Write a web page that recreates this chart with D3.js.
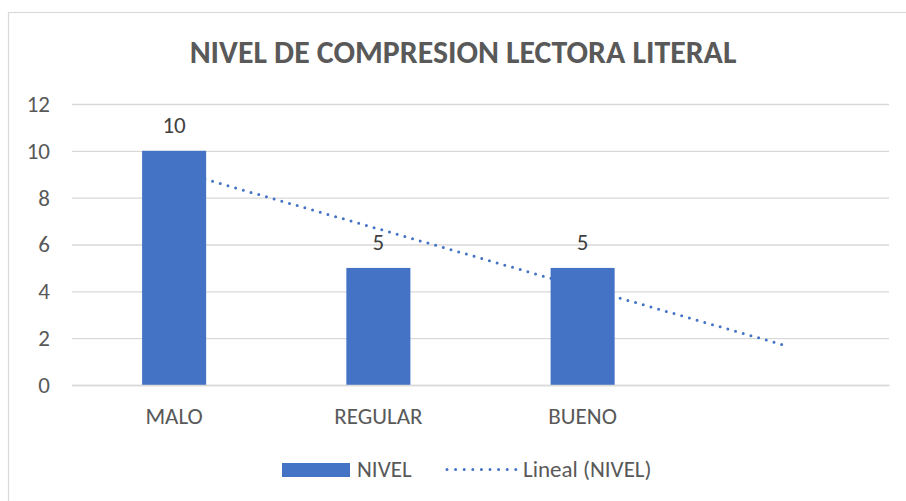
<!DOCTYPE html>
<html><head><meta charset="utf-8">
<script src="https://cdn.jsdelivr.net/npm/d3@7"></script>
<style>html,body{margin:0;padding:0;background:#fff;overflow:hidden}</style>
</head><body>
<svg id="c" width="906" height="501"></svg>
<script>
const categories = ["MALO", "REGULAR", "BUENO", ""];
const values = [10, 5, 5, null];
const yTicks = [0, 2, 4, 6, 8, 10, 12];
const title = "NIVEL DE COMPRESION LECTORA LITERAL";
const seriesName = "NIVEL";
const trendName = "Lineal (NIVEL)";

const W = 906, H = 501;
const margin = {left: 72, right: 17, top: 104, bottom: 116};
const font = "Carlito, Calibri, Lato, 'Open Sans', sans-serif";
const txt = "#595959", barColor = "#4472C4", grid = "#d9d9d9";
const fs = 23;

const svg = d3.select("#c");
svg.append("rect").attr("x", 0).attr("y", 0).attr("width", W).attr("height", H).attr("fill", "#fff");
svg.append("rect").attr("x", 8.5).attr("y", 12.5).attr("width", 1000).attr("height", 700)
  .attr("fill", "none").attr("stroke", grid).attr("stroke-width", 1.2);

const x = d3.scaleBand().domain(d3.range(categories.length)).range([margin.left, W - margin.right]).paddingInner(0).paddingOuter(0);
const y = d3.scaleLinear().domain([0, 12]).range([H - margin.bottom, margin.top]);
const barW = x.bandwidth() / 3.19;

// gridlines
const yAxis = d3.axisLeft(y).tickValues(yTicks).tickSize(-(W - margin.left - margin.right)).tickPadding(22);
const ga = svg.append("g").attr("transform", `translate(${margin.left},0)`).call(yAxis);
ga.select(".domain").remove();
ga.selectAll(".tick line").attr("stroke", grid).attr("stroke-width", 1.3);
ga.selectAll(".tick text").attr("fill", txt).attr("font-family", font).attr("font-size", fs);

// trendline (least squares over the filled points, over category positions 1..n)
const pts = values.map((v, i) => [i + 1, v]).filter(d => d[1] != null);
const mx = d3.mean(pts, d => d[0]), my = d3.mean(pts, d => d[1]);
const slope = d3.sum(pts, d => (d[0] - mx) * (d[1] - my)) / d3.sum(pts, d => (d[0] - mx) ** 2);
const icpt = my - slope * mx;
const trendPts = [0, categories.length - 1].map(i => [x(i) + x.bandwidth() / 2, y(icpt + slope * (i + 1))]);
svg.append("path").attr("d", d3.line()(trendPts)).attr("fill", "none").attr("stroke", barColor)
  .attr("stroke-width", 3).attr("stroke-linecap", "round").attr("stroke-dasharray", "0 8");

// bars
const data = values.map((v, i) => ({i, v})).filter(d => d.v != null);
svg.selectAll("rect.bar").data(data).enter().append("rect").attr("class", "bar")
  .attr("x", d => x(d.i) + x.bandwidth() / 2 - barW / 2)
  .attr("y", d => y(d.v)).attr("width", barW).attr("height", d => y(0) - y(d.v))
  .attr("fill", barColor);

// data labels
svg.selectAll("text.lbl").data(data).enter().append("text").attr("class", "lbl")
  .attr("x", d => x(d.i) + x.bandwidth() / 2).attr("y", d => y(d.v) - 18)
  .attr("text-anchor", "middle").attr("fill", "#404040").attr("font-family", font).attr("font-size", fs)
  .text(d => d.v);

// x axis labels
const xAxis = d3.axisBottom(x).tickFormat(i => categories[i]).tickSize(0).tickPadding(23);
const gx = svg.append("g").attr("transform", `translate(0,${y(0)})`).call(xAxis);
gx.select(".domain").attr("stroke", grid).attr("stroke-width", 1.3);
gx.selectAll(".tick text").attr("fill", txt).attr("font-family", font).attr("font-size", fs);

// title
const t = svg.append("text").attr("x", 463).attr("y", 63).attr("text-anchor", "middle")
  .attr("fill", txt).attr("font-family", font).attr("font-weight", "bold").attr("font-size", 30).text(title);
const tw = t.node().getComputedTextLength();
if (tw > 0) t.attr("font-size", 30 * 547 / tw);

// legend
const lg = svg.append("g");
lg.append("rect").attr("x", 282).attr("y", 463).attr("width", 68).attr("height", 14).attr("fill", barColor);
lg.append("text").attr("x", 357).attr("y", 477).attr("fill", txt).attr("font-family", font).attr("font-size", fs).text(seriesName);
lg.append("line").attr("x1", 447).attr("x2", 516).attr("y1", 469.5).attr("y2", 469.5)
  .attr("stroke", barColor).attr("stroke-width", 3).attr("stroke-linecap", "round").attr("stroke-dasharray", "0 8.6");
lg.append("text").attr("x", 523).attr("y", 477).attr("fill", txt).attr("font-family", font).attr("font-size", fs).text(trendName);
</script>
</body></html>
